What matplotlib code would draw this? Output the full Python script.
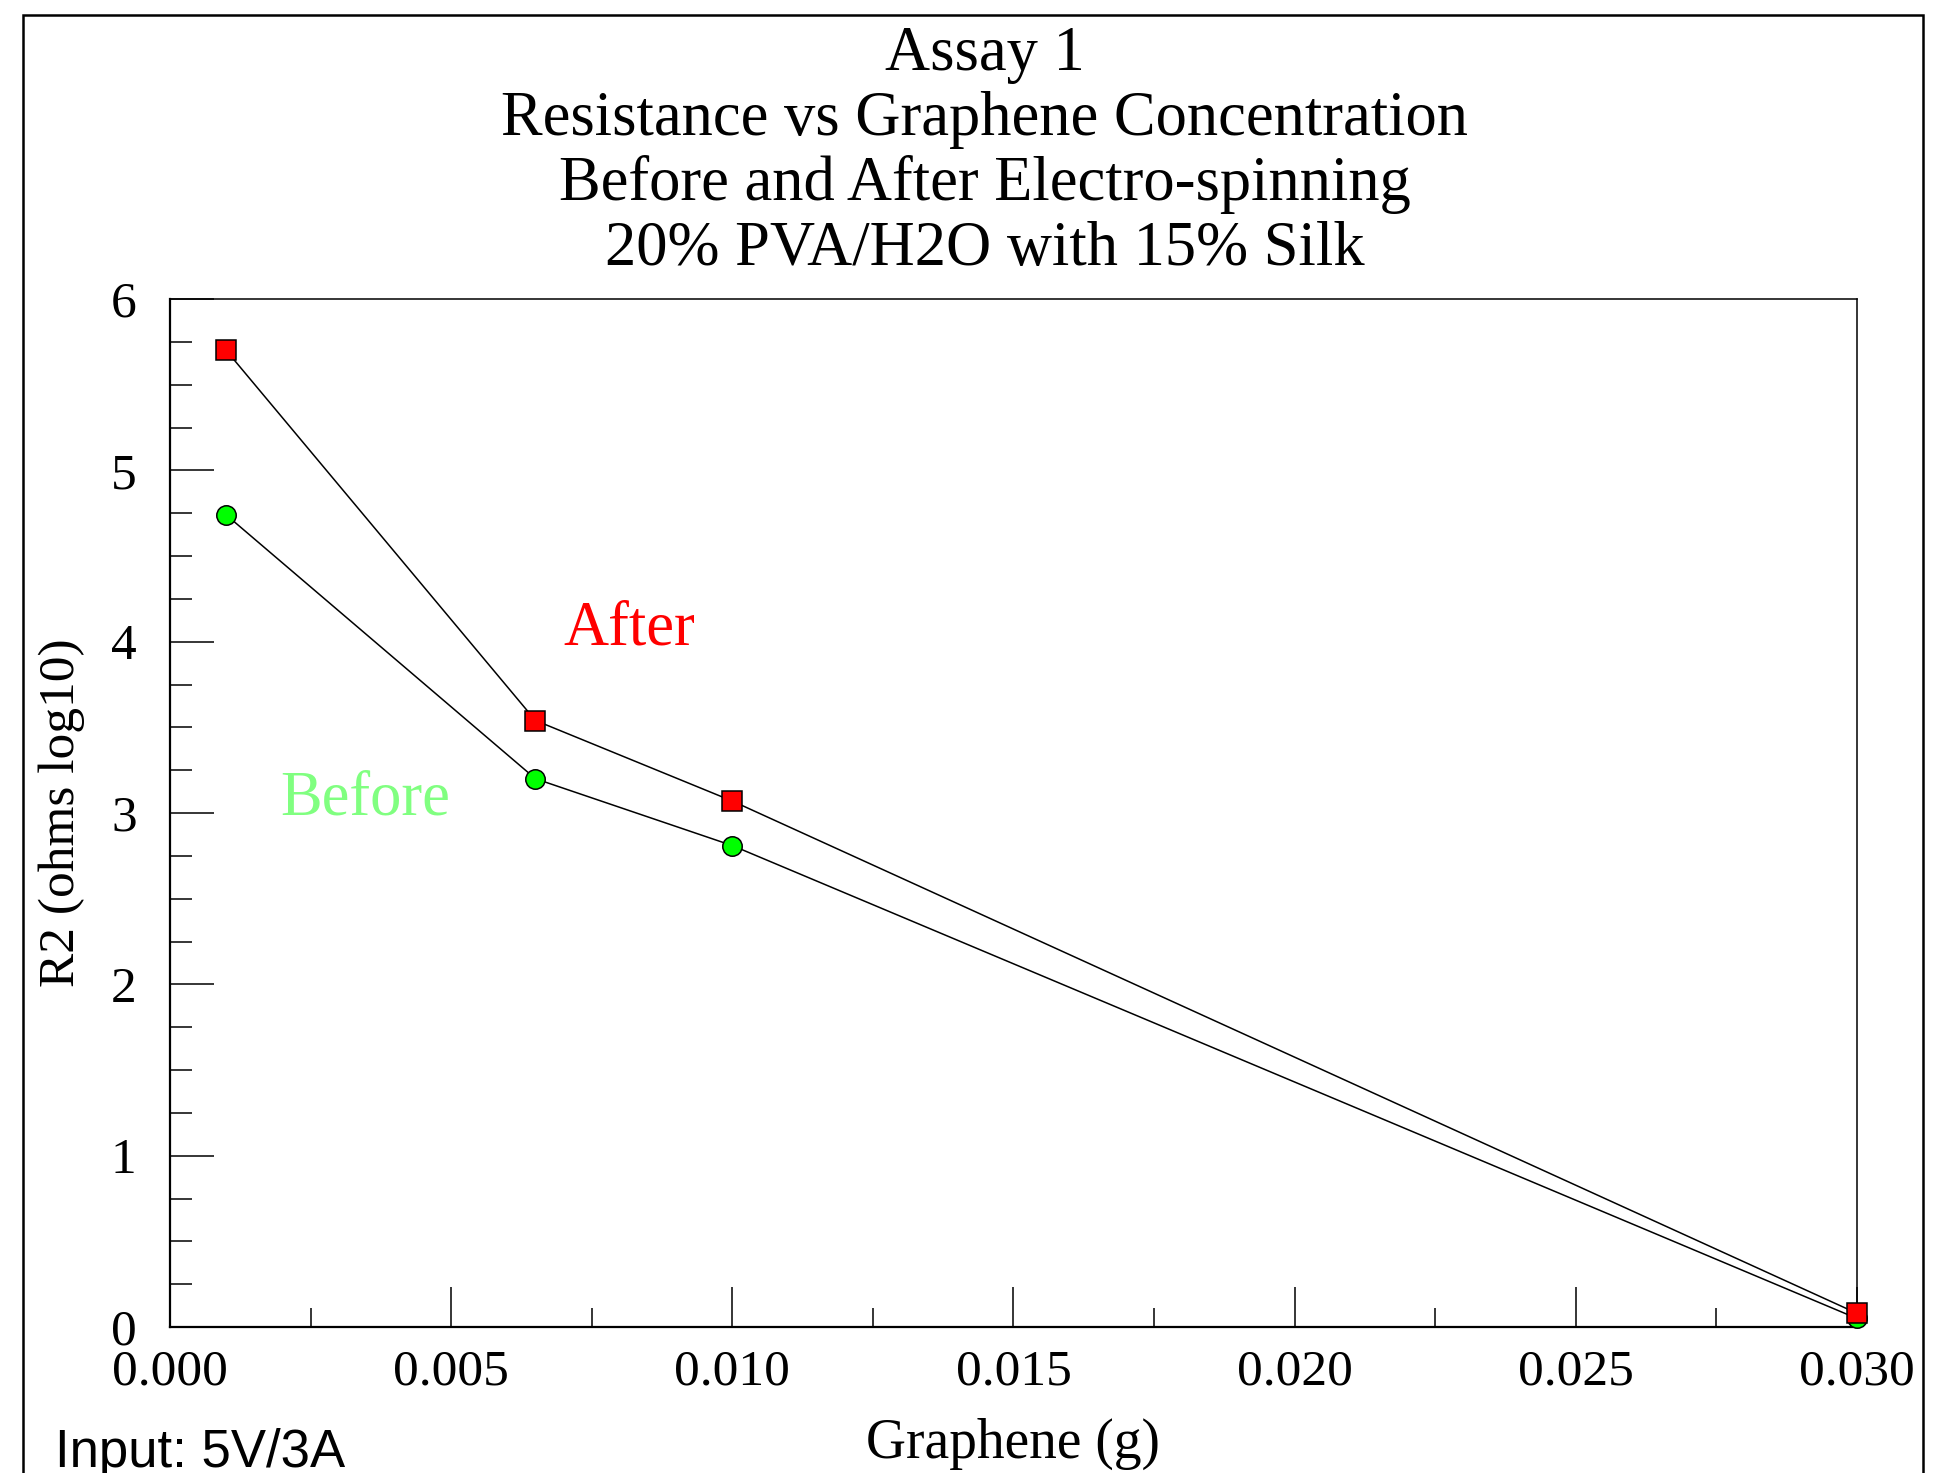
import matplotlib.pyplot as plt
from matplotlib.ticker import MultipleLocator, FormatStrFormatter
from matplotlib.patches import Rectangle

# graphene mass (g) and log10 resistance readings
graphene = [0.001, 0.0065, 0.010, 0.030]
before = [4.74, 3.20, 2.81, 0.05]
after = [5.70, 3.54, 3.07, 0.08]

title_lines = ["Assay 1",
               "Resistance vs Graphene Concentration",
               "Before and After Electro-spinning",
               "20% PVA/H2O with 15% Silk"]

serif = "Liberation Serif"

fig = plt.figure(figsize=(19.38, 14.73), dpi=100)
ax = fig.add_axes([0.0877, 0.0991, 0.8705, 0.6979])

# frame round the whole picture (bottom edge runs off the page)
fig.patches.append(Rectangle((23 / 1938, -0.05), (1923 - 23) / 1938, 1.05 - 15 / 1473,
                             transform=fig.transFigure, fill=False, lw=1.8, ec='black'))

ax.plot(graphene, before, color='black', lw=1.1, marker='o', ms=14,
        mfc='#00ff00', mec='black', mew=1.1, clip_on=False, zorder=3)
ax.plot(graphene, after, color='black', lw=1.1, marker='s', ms=14,
        mfc='#ff0000', mec='black', mew=1.1, clip_on=False, zorder=4)

ax.text(0.00699, 4.07, "After", color='#ff0000', fontsize=45, family=serif,
        ha='left', va='center')
ax.text(0.00196, 3.08, "Before", color='#80ff80', fontsize=45, family=serif,
        ha='left', va='center')

ax.set_xlim(0, 0.03)
ax.set_ylim(0, 6)
ax.xaxis.set_major_locator(MultipleLocator(0.005))
ax.xaxis.set_minor_locator(MultipleLocator(0.0025))
ax.yaxis.set_major_locator(MultipleLocator(1))
ax.yaxis.set_minor_locator(MultipleLocator(0.25))
ax.xaxis.set_major_formatter(FormatStrFormatter('%.3f'))

ax.tick_params(which='major', axis='x', direction='in', length=29, width=1.1, pad=16)
ax.tick_params(which='minor', axis='x', direction='in', length=14, width=1.1)
ax.tick_params(which='major', axis='y', direction='in', length=32, width=1.1, pad=24)
ax.tick_params(which='minor', axis='y', direction='in', length=16, width=1.1)
for lab in ax.get_xticklabels() + ax.get_yticklabels():
    lab.set_family(serif)
    lab.set_fontsize(37)

ax.spines['left'].set_linewidth(1.6)
ax.spines['bottom'].set_linewidth(1.6)
ax.spines['top'].set_linewidth(1.1)
ax.spines['right'].set_linewidth(1.1)

ax.set_xlabel("Graphene (g)", family=serif, fontsize=40, va='center')
ax.set_ylabel("R2 (ohms log10)", family=serif, fontsize=37, va='center')
ax.xaxis.set_label_coords(0.5, -0.1138)
ax.yaxis.set_label_coords(-0.064, 0.5)

for i, line in enumerate(title_lines):
    fig.text(0.508, 1 - (55 + 65 * i) / 1473, line, family=serif, fontsize=45,
             ha='center', va='center')

fig.text(55 / 1938, 1 - 1467 / 1473, "Input: 5V/3A", family="Liberation Sans",
         fontsize=38, ha='left', va='baseline')

fig.savefig("out.png", dpi=100)
